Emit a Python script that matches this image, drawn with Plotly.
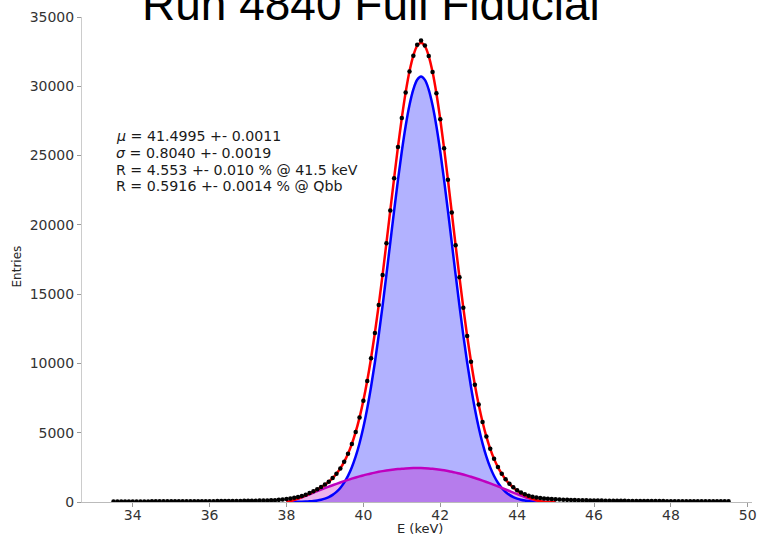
import numpy as np
import plotly.graph_objects as go

# Energy histogram: bin centres every 0.1 keV from 33.5 to 49.5 keV
E_MIN, E_STEP, N_BINS = 33.5, 0.1, 161
counts = [
    40, 41, 41, 42, 42, 43, 43, 44, 44, 45,
    46, 46, 47, 48, 48, 49, 50, 51, 52, 53,
    54, 55, 56, 58, 59, 61, 62, 64, 66, 68,
    70, 73, 76, 79, 82, 86, 90, 95, 100, 106,
    113, 122, 135, 155, 185, 220, 250, 300, 360, 430,
    530, 650, 780, 920, 1080, 1255, 1470, 1725, 2040, 2425,
    2900, 3480, 4190, 5050, 6090, 7310, 8730, 10370, 12200, 14220,
    16390, 18680, 21030, 23370, 25620, 27710, 29550, 31070, 32210, 33000,
    33300, 32950, 32190, 31030, 29490, 27630, 25530, 23250, 20900, 18530,
    16220, 14020, 11980, 10130, 8470, 7030, 5780, 4730, 3840, 3120,
    2520, 2030, 1640, 1320, 1060, 850, 690, 560, 460, 385,
    330, 290, 255, 230, 210, 190, 178, 166, 156, 147,
    139, 132, 125, 119, 113, 108, 104, 100, 96, 93,
    90, 87, 84, 82, 79, 77, 75, 73, 71, 70,
    68, 67, 65, 64, 63, 62, 60, 59, 58, 57,
    56, 55, 54, 53, 52, 51, 50, 49, 48, 47,
    46,
]

# Gaussian signal fit
mu, mu_err = 41.4995, 0.0011
sigma, sigma_err = 0.8040, 0.0019
signal_amp = 30700
res_peak, res_peak_err = 4.553, 0.010
res_qbb, res_qbb_err = 0.5916, 0.0014

# Background component, 0.1 keV steps starting at 38.0 keV
bkg_start = 38.0
bkg_values = [
    0, 60, 146, 242, 345, 452, 561, 671, 781, 891,
    999, 1106, 1210, 1312, 1411, 1506, 1598, 1686, 1769, 1849,
    1924, 1995, 2061, 2122, 2178, 2229, 2275, 2316, 2351, 2381,
    2406, 2425, 2439, 2447, 2450, 2447, 2437, 2420, 2396, 2366,
    2330, 2287, 2237, 2182, 2120, 2053, 1980, 1902, 1819, 1731,
    1639, 1543, 1443, 1339, 1233, 1125, 1014, 903, 792, 681,
    572, 466, 363, 266, 177, 99, 36, 0,
]

# Fit window
fit_lo, fit_hi = 38.0, 45.0

x = np.round(E_MIN + E_STEP * np.arange(N_BINS), 1)
i0 = int(round((bkg_start - E_MIN) / E_STEP))
bkg = np.zeros(N_BINS)
bkg[i0:i0 + len(bkg_values)] = bkg_values
signal = signal_amp * np.exp(-0.5 * ((x - mu) / sigma) ** 2)
total = signal + bkg

fit = (x >= fit_lo - 1e-9) & (x <= fit_hi + 1e-9)
bsel = slice(i0, i0 + len(bkg_values))

BLUE = "#0000ff"
RED = "#ff0000"
MAG = "rgb(191,0,191)"
FONT = "DejaVu Sans"

fig = go.Figure()
# filled areas first
fig.add_trace(go.Scatter(x=x[fit], y=signal[fit], mode="lines", fill="tozeroy",
                         fillcolor="rgba(0,0,255,0.3)",
                         line=dict(width=0, shape="spline"), hoverinfo="skip"))
fig.add_trace(go.Scatter(x=x[bsel], y=bkg[bsel], mode="lines", fill="tozeroy",
                         fillcolor="rgba(191,0,191,0.3)",
                         line=dict(width=0, shape="spline"), hoverinfo="skip"))
# fit curves
fig.add_trace(go.Scatter(x=x[fit], y=signal[fit], mode="lines",
                         line=dict(color=BLUE, width=2.5, shape="spline")))
fig.add_trace(go.Scatter(x=x[bsel], y=bkg[bsel], mode="lines",
                         line=dict(color=MAG, width=2.5, shape="spline")))
fig.add_trace(go.Scatter(x=x[fit], y=total[fit], mode="lines",
                         line=dict(color=RED, width=2.5, shape="spline")))
# data points
fig.add_trace(go.Scatter(x=x, y=counts, mode="markers",
                         marker=dict(color="black", size=4.5)))

fit_lines = [
    f"<i>μ</i> = {mu:.4f} +- {mu_err:.4f}",
    f"<i>σ</i> = {sigma:.4f} +- {sigma_err:.4f}",
    f"R = {res_peak:.3f} +- {res_peak_err:.3f} % @ 41.5 keV",
    f"R = {res_qbb:.4f} +- {res_qbb_err:.4f} % @ Qbb",
]

PLOT_H = 485.0
PLOT_W = 675.0
annotations = []
for i, line in enumerate(fit_lines):
    ypix = 136 + 16.8 * i  # line centres in pixels from top
    annotations.append(dict(
        text=line, xref="paper", yref="paper",
        x=(115 - 82) / PLOT_W, y=(502 - ypix) / PLOT_H,
        xanchor="left", yanchor="middle", showarrow=False, align="left",
        borderpad=0,
        font=dict(family=FONT, size=14.2, color="#1a1a1a")))

annotations.append(dict(
    text="Run 4840 Full Fiducial", xref="paper", yref="paper",
    x=(373 - 82) / PLOT_W, y=(502 - 4) / PLOT_H,
    xanchor="center", yanchor="middle", showarrow=False,
    font=dict(family="Liberation Sans", size=46, color="black")))
annotations.append(dict(
    text="E (keV)", xref="paper", yref="paper",
    x=(423 - 82) / PLOT_W, y=(502 - 528) / PLOT_H,
    xanchor="center", yanchor="middle", showarrow=False,
    font=dict(family=FONT, size=13, color="#262626")))
annotations.append(dict(
    text="Entries", xref="paper", yref="paper",
    x=(17 - 82) / PLOT_W, y=(502 - 266) / PLOT_H, textangle=-90,
    xanchor="center", yanchor="middle", showarrow=False,
    font=dict(family=FONT, size=12, color="#262626")))

fig.update_layout(
    width=757, height=541,
    margin=dict(l=82, r=0, t=17, b=39),
    paper_bgcolor="white", plot_bgcolor="white",
    showlegend=False,
    annotations=annotations,
    xaxis=dict(range=[32.68, 50.11], tickmode="array",
               tickvals=list(range(34, 51, 2)),
               ticks="outside", ticklen=4, tickcolor="#999999",
               ticklabelstandoff=-4, ticklabeloverflow="allow",
               showline=True, linecolor="#bbbbbb", linewidth=1,
               showgrid=False, zeroline=False,
               tickfont=dict(family=FONT, size=14, color="#333333")),
    yaxis=dict(range=[0, 35000], tickmode="array",
               tickvals=list(range(0, 35001, 5000)), tickformat="d",
               ticks="outside", ticklen=4, tickcolor="#999999",
               showline=True, linecolor="#cccccc", linewidth=1,
               showgrid=False, zeroline=False,
               tickfont=dict(family=FONT, size=14, color="#333333")),
)

fig.write_html("out.html")
